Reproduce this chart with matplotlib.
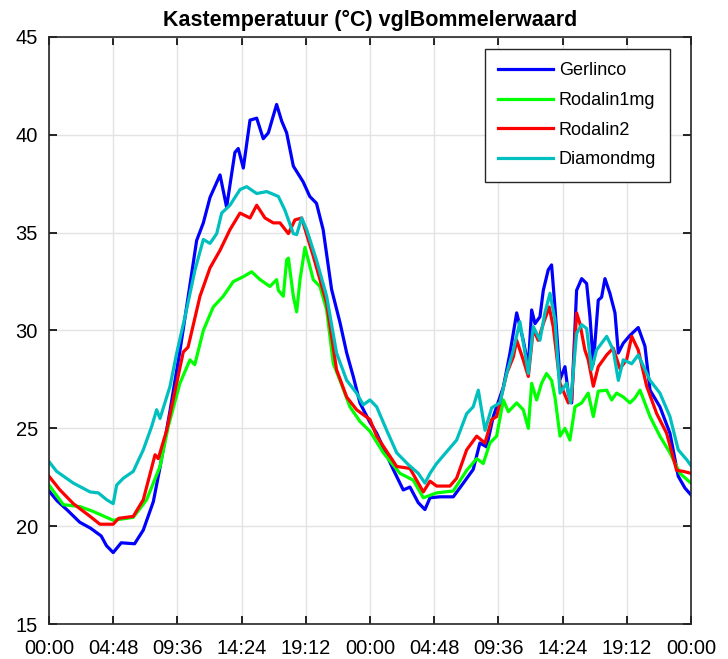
import matplotlib.pyplot as plt
from matplotlib import font_manager

# hours since start (two days), temperature in degC
ger_h = [0, 0.6, 1.4, 2.3, 3.1, 3.9, 4.3, 4.8, 5.4, 6.4, 7.05, 7.8, 8.3, 9.05, 9.8, 10.4, 11.04,
         11.54, 12.04, 12.79, 13.28, 13.9, 14.15, 14.53, 15.03, 15.53, 16.02, 16.4, 17.02, 17.4,
         17.77, 18.27, 19.0, 19.5, 20.0, 20.5, 21.13, 21.76, 22.26, 22.75, 23.25, 24.0, 24.5,
         25.74, 26.49, 26.99, 27.61, 28.11, 28.49, 29.23, 30.23, 30.98, 31.72, 32.22, 32.72, 33.22,
         33.97, 34.47, 34.97, 35.46, 35.84, 36.09, 36.34, 36.71, 36.96, 37.33, 37.58, 37.83, 38.21,
         38.58, 38.83, 39.08, 39.45, 39.83, 40.2, 40.45, 40.7, 41.07, 41.32, 41.57, 41.94, 42.32,
         42.57, 42.94, 43.44, 44.06, 44.56, 44.94, 45.68, 46.43, 47.05, 47.55, 48]
ger_t = [21.8, 21.3, 20.8, 20.2, 19.9, 19.5, 19.0, 18.65, 19.15, 19.1, 19.8, 21.25, 23.0, 25.9,
         29.0, 31.7, 34.6, 35.5, 36.8, 37.95, 36.3, 39.1, 39.3, 38.3, 40.75, 40.85, 39.8, 40.1,
         41.55, 40.7, 40.1, 38.4, 37.6, 36.85, 36.5, 35.15, 32.1, 30.4, 28.85, 27.65, 26.3, 25.3,
         24.75, 22.9, 21.85, 22.0, 21.2, 20.85, 21.45, 21.5, 21.5, 22.2, 22.9, 24.25, 24.05, 25.6,
         27.1, 28.85, 30.9, 29.5, 28.15, 31.05, 30.35, 30.7, 32.05, 33.1, 33.35, 31.2, 27.5, 28.15,
         26.8, 26.3, 32.05, 32.65, 32.4, 30.7, 28.3, 31.55, 31.7, 32.65, 31.9, 30.9, 28.85, 29.35,
         29.75, 30.15, 29.2, 26.95, 26.1, 24.75, 22.55, 21.95, 21.6]

rod1_h = [0, 1.07, 2.32, 3.31, 4.8, 6.3, 7.3, 8.3, 8.92, 9.79, 10.54, 10.9, 11.54, 12.28, 13.03,
          13.78, 14.53, 15.15, 15.78, 16.52, 17.02, 17.15, 17.52, 17.77, 17.9, 18.27, 18.52, 18.77,
          19.14, 19.76, 20.26, 20.76, 21.26, 21.76, 22.5, 23.25, 24.0, 25.0, 26.24, 27.24, 27.99,
          28.98, 30.23, 31.23, 31.98, 32.47, 32.97, 33.47, 33.97, 34.35, 34.97, 35.46, 35.84, 36.09,
          36.46, 36.83, 37.2, 37.58, 37.83, 38.21, 38.58, 38.95, 39.33, 39.83, 40.32, 40.7, 41.07,
          41.7, 42.07, 42.44, 42.94, 43.44, 43.81, 44.19, 44.94, 45.68, 46.43, 47.18, 48]
rod1_t = [22.1, 21.1, 21.0, 20.75, 20.3, 20.45, 21.35, 23.05, 25.1, 27.3, 28.5, 28.25, 30.0, 31.2,
          31.75, 32.5, 32.75, 33.0, 32.6, 32.25, 32.6, 32.05, 31.75, 33.6, 33.7, 31.75, 30.95, 32.6,
          34.25, 32.6, 32.25, 31.05, 28.3, 27.45, 26.1, 25.35, 24.85, 23.75, 22.7, 22.35, 21.45,
          21.7, 21.8, 22.85, 23.45, 23.2, 24.25, 24.6, 26.45, 25.85, 26.3, 25.95, 25.0, 27.3, 26.45,
          27.3, 27.8, 27.45, 26.6, 24.6, 25.0, 24.4, 26.1, 26.3, 26.8, 25.6, 26.9, 26.95, 26.45,
          26.8, 26.6, 26.3, 26.55, 26.95, 25.6, 24.6, 23.75, 22.7, 22.2]

rod2_h = [0, 0.82, 1.82, 3.07, 3.81, 4.8, 5.2, 6.3, 7.05, 7.93, 8.17, 8.8, 10.04, 10.4, 11.29,
          12.04, 12.79, 13.53, 14.28, 15.03, 15.53, 16.15, 16.77, 17.27, 17.9, 18.39, 18.89, 19.76,
          20.76, 21.5, 22.26, 23.0, 24.0, 24.5, 26.0, 26.99, 27.99, 28.49, 28.98, 29.98, 30.48,
          31.23, 31.98, 32.6, 33.1, 33.47, 34.22, 34.72, 34.97, 35.46, 35.84, 36.21, 36.58, 36.96,
          37.4, 37.7, 38.21, 38.83, 39.08, 39.45, 39.7, 40.07, 40.32, 40.7, 41.07, 41.7, 42.19,
          42.69, 43.19, 43.57, 44.06, 44.69, 45.44, 46.18, 46.93, 47.43, 48]
rod2_t = [22.55, 21.85, 21.15, 20.5, 20.1, 20.1, 20.4, 20.5, 21.35, 23.65, 23.45, 24.9, 28.9,
          29.15, 31.75, 33.2, 34.1, 35.15, 36.0, 35.75, 36.4, 35.75, 35.5, 35.5, 34.95, 35.65,
          35.75, 33.8, 31.4, 28.0, 26.6, 25.95, 25.45, 24.6, 23.05, 22.95, 21.75, 22.3, 22.05,
          22.05, 22.45, 23.9, 24.6, 24.25, 25.45, 25.6, 27.8, 28.65, 29.5, 28.5, 27.65, 30.05,
          29.5, 30.35, 31.2, 30.2, 27.3, 26.3, 26.45, 30.9, 30.35, 29.0, 28.5, 27.15, 28.15, 28.75,
          29.1, 28.05, 28.5, 29.7, 29.0, 27.15, 25.75, 24.75, 22.85, 22.8, 22.7]

dia_h = [0, 0.57, 1.82, 3.07, 3.69, 4.31, 4.8, 5.06, 5.56, 6.3, 7.05, 7.68, 8.05, 8.3, 9.05, 9.55,
         10.17, 10.92, 11.54, 12.04, 12.54, 12.91, 13.53, 14.28, 14.78, 15.53, 16.28, 17.15, 17.64,
         18.27, 18.52, 18.89, 19.27, 20.0, 20.76, 21.5, 22.26, 23.0, 23.5, 24.0, 24.5, 25.25, 26.0,
         26.86, 27.61, 28.11, 28.49, 28.98, 29.73, 30.48, 31.23, 31.72, 32.1, 32.6, 33.1, 33.72,
         34.22, 34.72, 35.21, 35.84, 36.21, 36.71, 37.08, 37.46, 37.83, 38.21, 38.7, 39.0, 39.45,
         39.83, 40.2, 40.57, 40.94, 41.7, 42.19, 42.57, 42.94, 43.57, 44.06, 44.94, 45.68, 46.43,
         47.05, 47.68, 48]
dia_t = [23.3, 22.8, 22.2, 21.75, 21.7, 21.35, 21.15, 22.1, 22.45, 22.8, 23.9, 25.1, 25.95, 25.5,
         27.15, 28.85, 30.7, 33.1, 34.65, 34.45, 34.95, 36.0, 36.4, 37.2, 37.35, 37.0, 37.1, 36.85,
         36.15, 34.95, 34.9, 35.75, 35.15, 33.6, 31.75, 28.85, 27.45, 26.8, 26.2, 26.45, 26.1,
         24.9, 23.75, 23.15, 22.7, 22.2, 22.7, 23.2, 23.8, 24.4, 25.75, 26.1, 26.95, 24.9, 26.05,
         26.3, 27.8, 29.0, 30.45, 27.8, 30.2, 29.5, 30.9, 31.9, 30.55, 26.8, 27.3, 26.3, 29.85,
         30.3, 30.1, 28.0, 29.0, 29.7, 29.0, 27.45, 28.5, 28.3, 28.75, 27.45, 26.8, 25.6, 23.9,
         23.4, 23.1]

tick_hours = [0, 4.8, 9.6, 14.4, 19.2, 24, 28.8, 33.6, 38.4, 43.2, 48]
tick_labels = ['00:00', '04:48', '09:36', '14:24', '19:12', '00:00',
               '04:48', '09:36', '14:24', '19:12', '00:00']

names = [f.name for f in font_manager.fontManager.ttflist]
fam = 'Liberation Sans Narrow' if 'Liberation Sans Narrow' in names else 'Liberation Sans'
plt.rcParams['font.family'] = [fam, 'DejaVu Sans']

fig = plt.figure(figsize=(7.28, 6.59), dpi=100)
ax = fig.add_axes([0.0673, 0.0531, 0.8818, 0.8908])

ax.plot(ger_h, ger_t, color='#0000ff', lw=2.3, label='Gerlinco')
ax.plot(rod1_h, rod1_t, color='#00ff00', lw=2.3, label='Rodalin1mg')
ax.plot(rod2_h, rod2_t, color='#ff0000', lw=2.3, label='Rodalin2')
ax.plot(dia_h, dia_t, color='#00bfbf', lw=2.3, label='Diamondmg')

ax.set_xlim(0, 48)
ax.set_ylim(15, 45)
ax.set_xticks(tick_hours)
ax.set_xticklabels(tick_labels)
ax.set_yticks(range(15, 50, 5))
ax.tick_params(direction='in', length=6, width=1.2, labelsize=14.5, top=True, right=True)
ax.tick_params(axis='x', pad=11)
ax.tick_params(axis='y', pad=8)
ax.grid(True, color='#e3e3e3', lw=1)
for s in ax.spines.values():
    s.set_linewidth(1.2)
    s.set_color('#262626')

ax.set_title('Kastemperatuur (°C) vglBommelerwaard', fontsize=15.5, fontweight='bold', pad=8)
leg = ax.legend(loc='upper right', bbox_to_anchor=(0.967, 0.98), borderaxespad=0,
                fontsize=13, fancybox=False, framealpha=1, edgecolor='#262626',
                handlelength=3.0, borderpad=0.75, labelspacing=0.7, handletextpad=0.35)
leg.get_frame().set_linewidth(1)

fig.savefig('out.png', dpi=100)
